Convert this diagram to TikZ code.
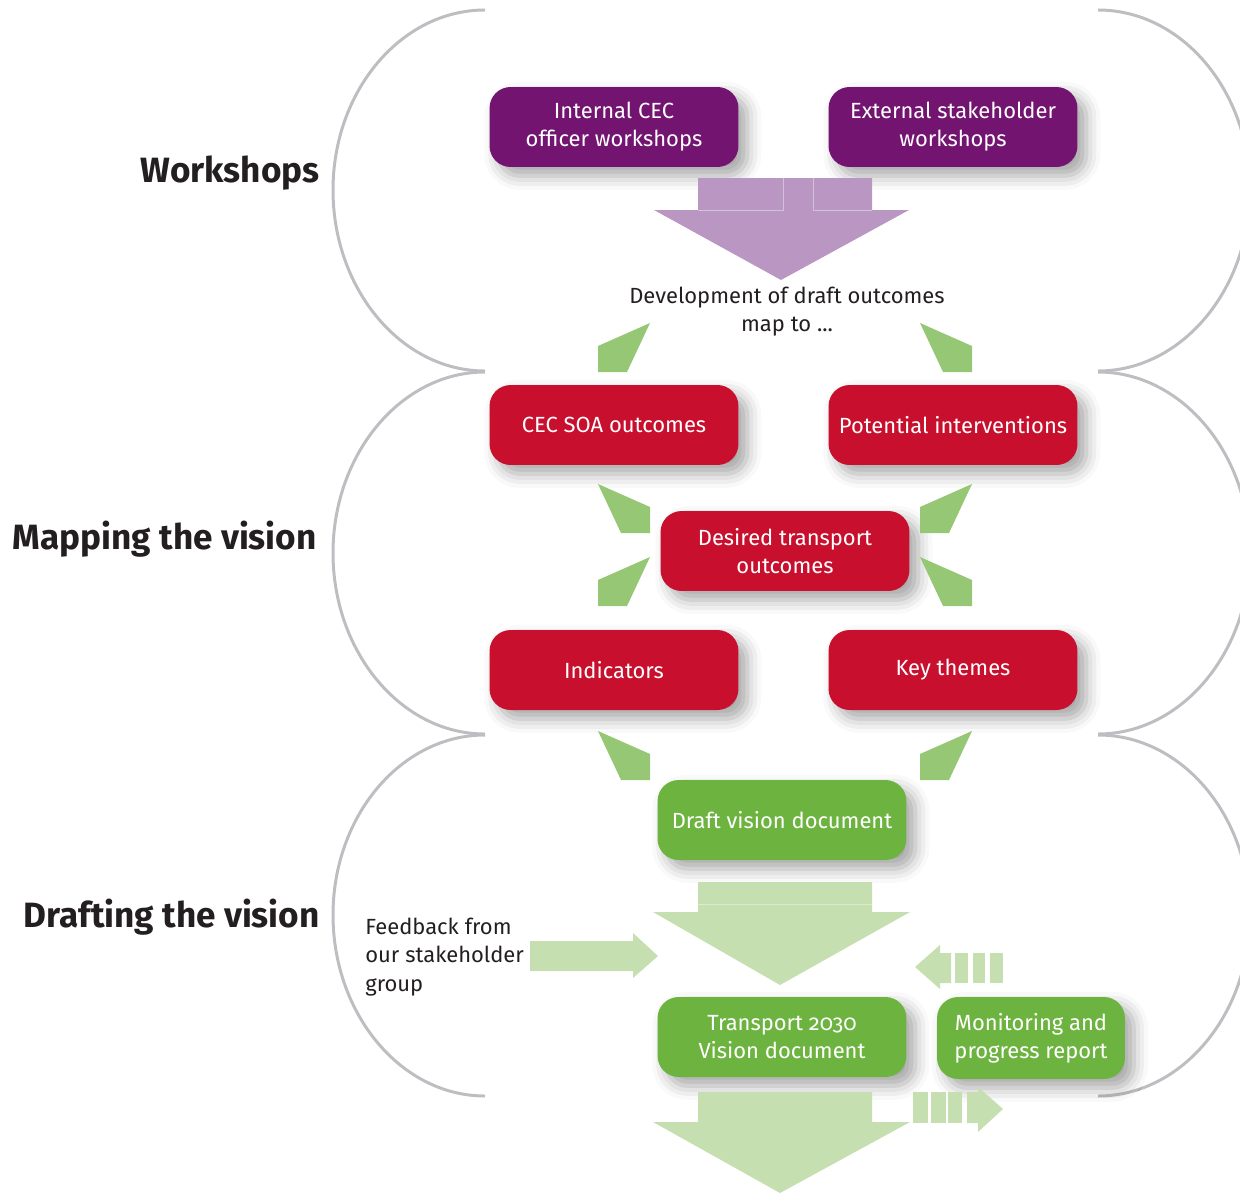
\documentclass[tikz,border=0pt]{standalone}
\usepackage{fontspec}
\setmainfont{Fira Sans}[Numbers=OldStyle]
\usetikzlibrary{shadows.blur}

\begin{document}
\begin{tikzpicture}[x=0.02cm, y=-0.02cm,
    box/.style={rounded corners=12pt, minimum width=4.98cm, minimum height=1.6cm,
        align=center, text=white, inner sep=2pt,
        font=\fontsize{12.5}{16}\selectfont,
        blur shadow={shadow xshift=5pt, shadow yshift=-5pt,
            shadow blur radius=8pt, shadow opacity=35}},
    stage/.style={anchor=east, inner sep=0pt, text=mytext,
        font=\fontsize{20}{22}\selectfont\bfseries},
    note/.style={inner sep=0pt, text=mytext, font=\fontsize{12.5}{16}\selectfont},
    bracket/.style={draw=mygray, line width=1.7pt}]
    \definecolor{mypurple}{RGB}{115,20,112}
    \definecolor{myred}{RGB}{200,16,46}
    \definecolor{mygreen}{RGB}{109,179,63}
    \definecolor{mylilac}{RGB}{186,150,194}
    \definecolor{mypale}{RGB}{198,223,176}
    \definecolor{mygreenarr}{RGB}{150,199,116}
    \definecolor{mygray}{RGB}{190,190,194}
    \definecolor{mytext}{RGB}{35,31,32}

    \useasboundingbox (0,0) rectangle (1240,1193);
    \clip (0,0) rectangle (1240,1193);

    % left brackets
    \draw[bracket] (485,10) .. controls (401,10) and (333,91) .. (333,190)
        .. controls (333,289) and (401,371) .. (485,371);
    \draw[bracket] (485,372) .. controls (401,372) and (333,454) .. (333,553)
        .. controls (333,652) and (401,734) .. (485,734);
    \draw[bracket] (485,735) .. controls (401,735) and (333,816) .. (333,915)
        .. controls (333,1014) and (401,1096) .. (485,1096);

    % right brackets
    \draw[bracket] (1098,10) .. controls (1182,10) and (1250,91) .. (1250,190)
        .. controls (1250,289) and (1182,371) .. (1098,371);
    \draw[bracket] (1098,372) .. controls (1182,372) and (1250,454) .. (1250,553)
        .. controls (1250,652) and (1182,734) .. (1098,734);
    \draw[bracket] (1098,735) .. controls (1182,735) and (1250,816) .. (1250,915)
        .. controls (1250,1014) and (1182,1096) .. (1098,1096);

    % stage titles
    \node[stage] (ws) at (320,173) {Workshops};
    \node[stage] (map) at (317,539) {Mapping the vision};
    \node[stage] (draft) at (320,917) {Drafting the vision};

    % boxes
    \node[box, fill=mypurple] (int) at (614,127) {Internal CEC\\officer workshops};
    \node[box, fill=mypurple] (ext) at (953,127) {External stakeholder\\workshops};
    \node[box, fill=myred] (soa) at (614,425) {CEC SOA outcomes};
    \node[box, fill=myred] (pot) at (953,425) {Potential interventions};
    \node[box, fill=myred] (des) at (785,551) {Desired transport\\outcomes};
    \node[box, fill=myred] (ind) at (614,670) {Indicators};
    \node[box, fill=myred] (key) at (953,670) {Key themes};
    \node[box, fill=mygreen] (drv) at (782,820) {Draft vision document};
    \node[box, fill=mygreen] (tv) at (782,1037) {Transport 2030\\Vision document};
    \node[box, fill=mygreen, minimum width=3.76cm, minimum height=1.64cm]
        (mon) at (1031,1038) {Monitoring and\\progress report};

    % big block arrows
    \fill[mylilac] (698,178) -- (872,178) -- (872,210) -- (909,210) -- (781,280)
        -- (654,210) -- (698,210) -- cycle;
    \draw[white, opacity=0.4, line width=0.5pt] (783,178) -- (783,210) -- (698,210);
    \draw[white, opacity=0.4, line width=0.5pt] (813,178) -- (813,210) -- (872,210);
    \fill[mypale] (698,882) -- (872,882) -- (872,912) -- (910,912) -- (780,985)
        -- (653,912) -- (698,912) -- cycle;
    \draw[white, opacity=0.4, line width=0.5pt] (698,904) -- (872,904);
    \fill[mypale] (698,1092) -- (872,1092) -- (872,1122) -- (910,1122) -- (780,1193)
        -- (653,1122) -- (698,1122) -- cycle;

    % feedback arrow
    \fill[mypale] (530,941) -- (633,941) -- (633,933) -- (658,956) -- (633,978)
        -- (633,971) -- (530,971) -- cycle;

    % striped arrows
    \fill[mypale] (915,967) -- (940,945) -- (940,953) -- (951,953) -- (951,983)
        -- (940,983) -- (940,989) -- cycle;
    \fill[mypale] (955,953) rectangle (968,983);
    \fill[mypale] (973,953) rectangle (985,983);
    \fill[mypale] (990,953) rectangle (1003,983);
    \fill[mypale] (913,1092) rectangle (928,1123);
    \fill[mypale] (931,1092) rectangle (946,1123);
    \fill[mypale] (948,1092) rectangle (962,1123);
    \fill[mypale] (967,1092) -- (978,1092) -- (978,1087) -- (1003,1109) -- (978,1132)
        -- (978,1123) -- (967,1123) -- cycle;

    % small green arrows
    \fill[mygreenarr] (598,372) -- (598,346) -- (650,323) -- (627,372) -- cycle;
    \fill[mygreenarr] (972,372) -- (972,346) -- (920,323) -- (943,372) -- cycle;
    \fill[mygreenarr] (650,533) -- (650,507) -- (598,484) -- (621,533) -- cycle;
    \fill[mygreenarr] (920,533) -- (920,507) -- (972,484) -- (949,533) -- cycle;
    \fill[mygreenarr] (598,606) -- (598,580) -- (650,557) -- (627,606) -- cycle;
    \fill[mygreenarr] (972,606) -- (972,580) -- (920,557) -- (943,606) -- cycle;
    \fill[mygreenarr] (650,780) -- (650,754) -- (598,731) -- (621,780) -- cycle;
    \fill[mygreenarr] (920,780) -- (920,754) -- (972,731) -- (949,780) -- cycle;

    % notes
    \node[note, align=center] (dev) at (787,312) {Development of draft outcomes\\map to ...};
    \node[note, align=left, anchor=west] (fb) at (365,957) {Feedback from\\our stakeholder\\group};
\end{tikzpicture}
\end{document}
